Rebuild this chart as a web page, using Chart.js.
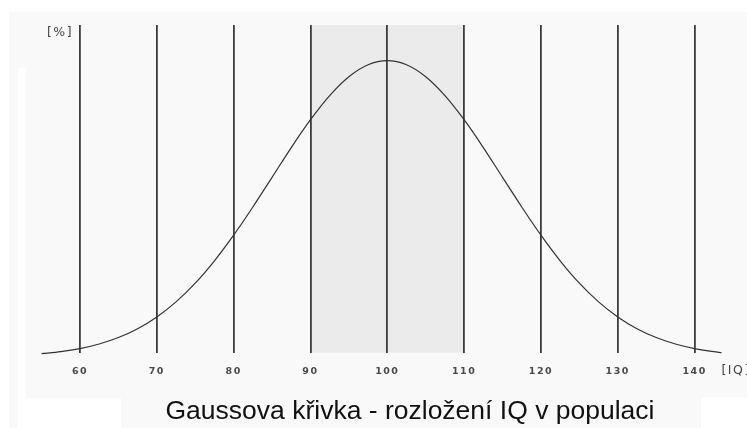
<!DOCTYPE html>
<html>
<head>
<meta charset="utf-8">
<script src="https://cdn.jsdelivr.net/npm/chart.js@4/dist/chart.umd.min.js"></script>
<style>
	html, body { margin: 0; padding: 0; background: #fff; }
	#wrap { position: relative; width: 747px; height: 428px; overflow: hidden; }
	.panel { position: absolute; left: 9px; top: 12px; width: 738px; height: 416px; background: #f9f9f9; }
	.white { position: absolute; background: #fff; }
	#title {
		position: absolute; left: 0; width: 820px; top: 395px; line-height: 30px;
		text-align: center; font: 26.5px "Liberation Sans", Arial, sans-serif; color: #111;
	}
	canvas { position: absolute; left: 0; top: 0; }
</style>
</head>
<body>
<div id="wrap">
	<div class="panel"></div>
	<div class="white" style="left:18px; top:68px; width:8px; height:360px;"></div>
	<div class="white" style="left:18px; top:398px; width:103px; height:30px;"></div>
	<div class="white" style="left:701px; top:397px; width:46px; height:31px;"></div>
	<canvas id="gauss" width="747" height="428"></canvas>
	<div id="title">Gaussova křivka - rozložení IQ v populaci</div>
</div>
<script>
// IQ values along the curve and the share of population [%]
const iqValues = [55, 57.5, 60, 62.5, 65, 67.5, 70, 72.5, 75, 77.5, 80, 82.5, 85, 87.5, 90, 92.5, 95, 97.5,
	100, 102.5, 105, 107.5, 110, 112.5, 115, 117.5, 120, 122.5, 125, 127.5, 130, 132.5, 135, 137.5, 140, 142.5, 143.5];
const pctValues = [0.030, 0.048, 0.076, 0.117, 0.175, 0.254, 0.360, 0.495, 0.663, 0.864, 1.094, 1.347, 1.613, 1.880, 2.130, 2.347, 2.516, 2.623,
	2.660, 2.623, 2.516, 2.347, 2.130, 1.880, 1.613, 1.347, 1.094, 0.864, 0.663, 0.495, 0.360, 0.254, 0.175, 0.117, 0.076, 0.048, 0.040];
const xTicks = [60, 70, 80, 90, 100, 110, 120, 130, 140];
const bandRange = [90, 110];
const yUnit = '[%]';
const xUnit = '[IQ]';

const bandPlugin = {
	id: 'band',
	beforeDraw(chart) {
		const { ctx, chartArea, scales } = chart;
		ctx.letterSpacing = '1.5px';
		const x1 = scales.x.getPixelForValue(bandRange[0]);
		const x2 = scales.x.getPixelForValue(bandRange[1]);
		ctx.save();
		ctx.fillStyle = '#ebebeb';
		ctx.fillRect(x1, chartArea.top, x2 - x1, chartArea.bottom - chartArea.top);
		ctx.restore();
	},
	afterDraw(chart) {
		const { ctx, chartArea, scales } = chart;
		ctx.save();
		ctx.fillStyle = '#444';
		ctx.letterSpacing = '1.5px';
		ctx.font = '12.5px "DejaVu Sans", sans-serif';
		ctx.textBaseline = 'top';
		ctx.textAlign = 'right';
		ctx.fillText(yUnit, scales.x.getPixelForValue(xTicks[0]) - 7, chartArea.top + 1);
		ctx.textAlign = 'left';
		ctx.textBaseline = 'middle';
		ctx.fillText(xUnit, scales.x.getPixelForValue(143.5), chartArea.bottom + 18);
		ctx.restore();
	}
};

new Chart(document.getElementById('gauss').getContext('2d'), {
	type: 'line',
	data: {
		datasets: [{
			data: iqValues.map((v, i) => ({ x: v, y: pctValues[i] })),
			borderColor: '#333',
			borderWidth: 1.2,
			pointRadius: 0,
			tension: 0.4,
			cubicInterpolationMode: 'monotone',
			fill: false,
			clip: false
		}]
	},
	options: {
		responsive: false,
		animation: false,
		layout: { padding: { left: 41.6, right: 14, top: 25, bottom: 38 } },
		plugins: { legend: { display: false }, tooltip: { enabled: false } },
		scales: {
			x: {
				type: 'linear',
				min: 55,
				max: 145,
				afterBuildTicks: axis => { axis.ticks = xTicks.map(v => ({ value: v })); },
				border: { display: false },
				grid: { color: '#3c3c3c', lineWidth: 1.8, drawTicks: false },
				ticks: {
					padding: 13,
					color: '#4a4a4a',
					font: { family: 'DejaVu Sans', size: 9.5, weight: 'bold' },
					maxRotation: 0
				}
			},
			y: {
				display: false,
				min: 0.04,
				max: 2.98
			}
		}
	},
	plugins: [bandPlugin]
});
</script>
</body>
</html>
